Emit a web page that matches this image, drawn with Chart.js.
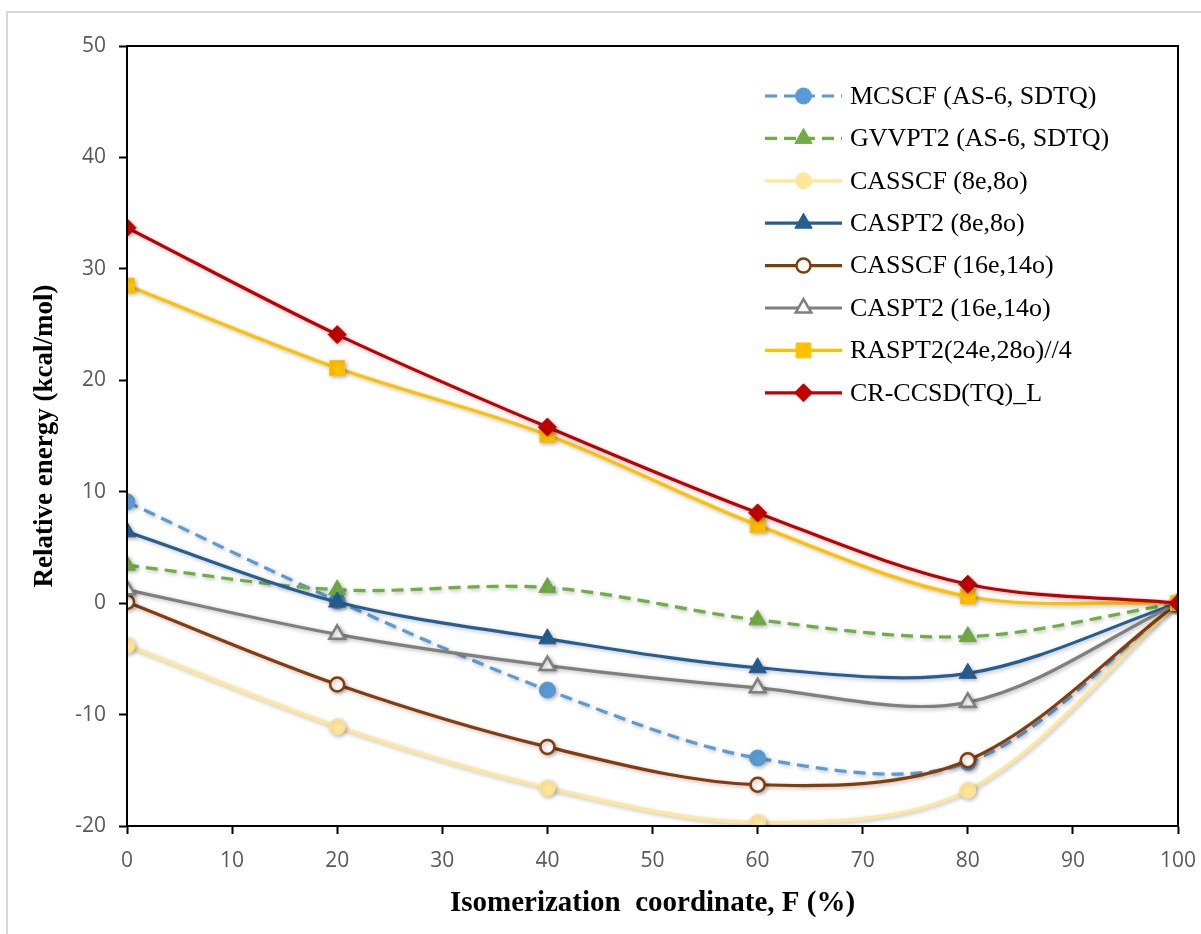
<!DOCTYPE html>
<html>
<head>
<meta charset="utf-8">
<script src="https://cdn.jsdelivr.net/npm/chart.js@4/dist/chart.umd.min.js"></script>
<style>
  html, body { margin: 0; padding: 0; background: #fff; }
  #wrap { width: 1201px; height: 934px; }
</style>
</head>
<body>
<div id="wrap"><canvas id="chart" width="1201" height="934"></canvas></div>
<script>
// data
const xValues = [0, 20, 40, 60, 80, 100];
const mcscf = [9.1, 0.2, -7.8, -13.9, -14.3, 0];
const gvvpt2 = [3.4, 1.2, 1.4, -1.5, -3.0, 0];
const casscf8 = [-3.8, -11.1, -16.6, -19.7, -16.8, 0];
const caspt28 = [6.4, 0.1, -3.2, -5.8, -6.3, 0];
const casscf16 = [0.1, -7.3, -12.9, -16.3, -14.1, 0];
const caspt216 = [1.2, -2.8, -5.6, -7.6, -8.9, 0];
const raspt2 = [28.5, 21.1, 15.1, 7.0, 0.6, 0];
const crccsd = [33.7, 24.1, 15.8, 8.1, 1.7, 0];
const xTicks = [0, 10, 20, 30, 40, 50, 60, 70, 80, 90, 100];
const yTicks = [-20, -10, 0, 10, 20, 30, 40, 50];

const toPoints = (ys) => ys.map((y, i) => ({ x: xValues[i], y: y }));

// series look: colour, marker, dash
const series = [
  { label: "MCSCF (AS-6, SDTQ)", data: mcscf, color: "#5B9BD5", style: "circle", r: 8, fill: "#5B9BD5", dash: [12, 7] },
  { label: "GVVPT2 (AS-6, SDTQ)", data: gvvpt2, color: "#70AD47", style: "triangle", r: 10, fill: "#70AD47", dash: [12, 7] },
  { label: "CASSCF (8e,8o)", data: casscf8, color: "#FFE699", style: "circle", r: 8, fill: "#FFE699", dash: [] },
  { label: "CASPT2 (8e,8o)", data: caspt28, color: "#255E91", style: "triangle", r: 10, fill: "#255E91", dash: [] },
  { label: "CASSCF (16e,14o)", data: casscf16, color: "#843C0C", style: "circle", r: 7, fill: "#ffffff", dash: [] },
  { label: "CASPT2 (16e,14o)", data: caspt216, color: "#7F7F7F", style: "triangle", r: 9, fill: "#ffffff", dash: [] },
  { label: "RASPT2(24e,28o)//4", data: raspt2, color: "#FFC000", style: "rect", r: 10.5, fill: "#FFC000", dash: [] },
  { label: "CR-CCSD(TQ)_L", data: crccsd, color: "#C00000", style: "rectRot", r: 9, fill: "#C00000", dash: [] },
];

const datasets = series.map((s, i) => ({
  label: s.label,
  data: toPoints(s.data),
  borderColor: s.color,
  backgroundColor: s.fill,
  borderWidth: 3.2,
  borderDash: s.dash,
  tension: 0.33,
  pointStyle: s.style,
  pointRadius: s.r,
  pointBackgroundColor: s.fill,
  pointBorderColor: s.color,
  pointBorderWidth: s.fill === "#ffffff" ? 2.5 : 1,
  order: series.length - 1 - i,
}));

// 背景、外框、繪圖區邊框
const framePlugin = {
  id: "frame",
  beforeDraw(chart) {
    const ctx = chart.ctx;
    ctx.save();
    ctx.fillStyle = "#fff";
    ctx.fillRect(0, 0, chart.width, chart.height);
    ctx.strokeStyle = "#d9d9d9";
    ctx.lineWidth = 2;
    ctx.strokeRect(7, 12, 1400, 1200);
    ctx.restore();
  },
  beforeDatasetsDraw(chart) {
    const ctx = chart.ctx;
    ctx.save();
    ctx.shadowColor = "rgba(0,0,0,0.28)";
    ctx.shadowBlur = 4;
    ctx.shadowOffsetX = 1.5;
    ctx.shadowOffsetY = 1.5;
  },
  afterDatasetsDraw(chart) {
    chart.ctx.restore();
  },
  afterDraw(chart) {
    const ctx = chart.ctx;
    const a = chart.chartArea;
    ctx.save();
    ctx.strokeStyle = "#000";
    ctx.lineWidth = 2;
    ctx.strokeRect(a.left, a.top, a.right - a.left, a.bottom - a.top);
    ctx.restore();
  },
};

// 自訂圖例（放在繪圖區右上）
const legendPlugin = {
  id: "innerLegend",
  afterDraw(chart) {
    const ctx = chart.ctx;
    const x0 = 765, x1 = 842, tx = 850;
    let y = 96;
    ctx.save();
    ctx.font = '26px "Liberation Serif", "Times New Roman", serif';
    ctx.textBaseline = "middle";
    series.forEach((s) => {
      ctx.strokeStyle = s.color;
      ctx.lineWidth = 3.2;
      ctx.setLineDash(s.dash);
      ctx.beginPath();
      ctx.moveTo(x0, y);
      ctx.lineTo(x1, y);
      ctx.stroke();
      ctx.setLineDash([]);
      ctx.fillStyle = s.fill;
      ctx.strokeStyle = s.color;
      ctx.lineWidth = s.fill === "#ffffff" ? 2.5 : 1;
      Chart.helpers.drawPoint(ctx, { pointStyle: s.style, radius: s.r, rotation: 0, borderWidth: ctx.lineWidth }, (x0 + x1) / 2, y);
      ctx.fillStyle = "#000";
      ctx.fillText(s.label, tx, y + 1);
      y += 42.4;
    });
    ctx.restore();
  },
};

const ctx = document.getElementById("chart").getContext("2d");
const chart = new Chart(ctx, {
  type: "line",
  data: { datasets: datasets },
  options: {
    responsive: false,
    animation: false,
    layout: { padding: { top: 46, right: 23, left: 0, bottom: 0 } },
    plugins: {
      legend: { display: false },
      tooltip: { enabled: false },
    },
    scales: {
      x: {
        type: "linear",
        min: 0,
        max: 100,
        afterBuildTicks: (scale) => { scale.ticks = xTicks.map((v) => ({ value: v })); },
        afterFit: (scale) => {
          scale.height = 108;
          scale.paddingRight = 0;
          scale.paddingLeft = 0;
        },
        grid: { display: true, drawOnChartArea: false, tickLength: 8, tickWidth: 2, tickColor: "#000" },
        border: { color: "#000", width: 2 },
        ticks: { color: "#595959", font: { family: '"Open Sans"', size: 21 }, padding: 14, maxRotation: 0 },
        title: {
          display: true,
          text: "Isomerization  coordinate, F (%)",
          color: "#000",
          font: { family: '"Liberation Serif"', size: 29, weight: "bold" },
          padding: { top: 0, bottom: 13 },
        },
      },
      y: {
        min: -20,
        max: 50,
        afterBuildTicks: (scale) => { scale.ticks = yTicks.map((v) => ({ value: v })); },
        afterFit: (scale) => { scale.width = 127; },
        grid: { display: true, drawOnChartArea: false, tickLength: 8, tickWidth: 2, tickColor: "#000" },
        border: { color: "#000", width: 2 },
        ticks: { color: "#595959", font: { family: '"Open Sans"', size: 21 }, padding: 13 },
        title: {
          display: true,
          text: "Relative energy (kcal/mol)",
          color: "#000",
          font: { family: '"Liberation Serif"', size: 27, weight: "bold" },
          padding: { top: 29, bottom: 0 },
        },
      },
    },
  },
  plugins: [framePlugin, legendPlugin],
});
</script>
</body>
</html>
